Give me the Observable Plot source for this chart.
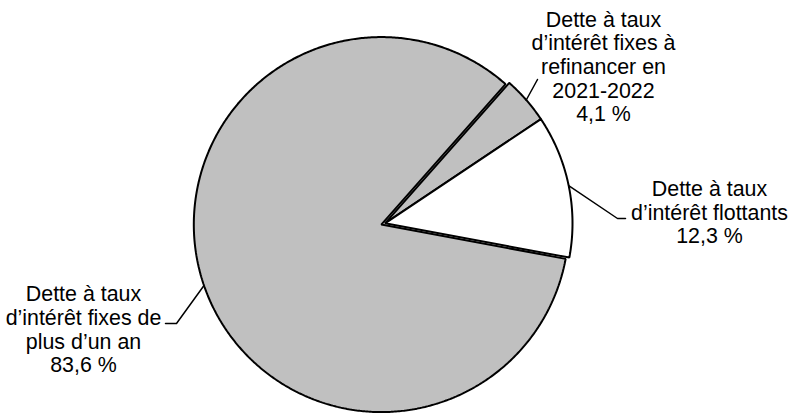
<!DOCTYPE html>
<html>
<head>
<meta charset="utf-8">
<script src="https://cdn.jsdelivr.net/npm/d3@7"></script>
<script src="https://cdn.jsdelivr.net/npm/@observablehq/plot@0.6"></script>
<style>
  html, body { margin: 0; padding: 0; background: #fff; }
  #chart svg { display: block; }
</style>
</head>
<body>
<div id="chart"></div>
<script>
// ---- data ----
const categories = [
  "Dette à taux d’intérêt fixes à refinancer en 2021-2022",
  "Dette à taux d’intérêt flottants",
  "Dette à taux d’intérêt fixes de plus d’un an"
];
const values = [4.1, 12.3, 83.6];
const valueLabels = ["4,1 %", "12,3 %", "83,6 %"];
const labelLines = [
  ["Dette à taux", "d’intérêt fixes à", "refinancer en", "2021-2022"],
  ["Dette à taux", "d’intérêt flottants"],
  ["Dette à taux", "d’intérêt fixes de", "plus d’un an"]
];

// ---- layout ----
const W = 791, H = 413;
const CX = 384.5, CY = 222.8, R = 187.5;       // pie centre and radius (px)
const startDeg = 41.5;                           // first slice start, clockwise from 12 o'clock
const explode = [0, 0, 3.9];                     // px offset of each slice along its mid-angle
const fills = ["#c0c0c0", "#ffffff", "#c0c0c0"];
const labelPos = [[603, 66], [709, 211.6], [83, 328.8]];       // px, middle of text block
const leaderPts = [
  [[537, 79]],
  [[617, 218], [625, 218]],
  [[176, 323], [165, 323]]
];
const ux = px => (px - CX) / R;
const uy = py => (CY - py) / R;

const rad = d => d * Math.PI / 180;
const arcs = d3.pie().sort(null).value(d => d)
  .startAngle(rad(startDeg)).endAngle(rad(startDeg) + 2 * Math.PI)(values);

const marks = [];
arcs.forEach((a, i) => {
  const mid = (a.startAngle + a.endAngle) / 2;
  const ox = Math.sin(mid) * explode[i] / R, oy = Math.cos(mid) * explode[i] / R;
  const pts = [{x: ox, y: oy}];
  const n = Math.max(8, Math.ceil((a.endAngle - a.startAngle) / rad(0.5)));
  for (let k = 0; k <= n; k++) {
    const t = a.startAngle + (a.endAngle - a.startAngle) * k / n;
    pts.push({x: ox + Math.sin(t), y: oy + Math.cos(t)});
  }
  marks.push(Plot.line(pts, {x: "x", y: "y", curve: "linear-closed", fill: fills[i],
    stroke: "black", strokeWidth: 2, strokeLinejoin: "miter"}));

  // leader line
  const lead = [{x: ox + Math.sin(mid), y: oy + Math.cos(mid)}]
    .concat(leaderPts[i].map(([px, py]) => ({x: ux(px), y: uy(py)})));
  marks.push(Plot.line(lead, {x: "x", y: "y", stroke: "black", strokeWidth: 1.5}));
});

const labelData = categories.map((c, i) => ({
  x: ux(labelPos[i][0]), y: uy(labelPos[i][1]),
  text: labelLines[i].concat(valueLabels[i]).join("\n")
}));
marks.push(Plot.text(labelData, {x: "x", y: "y", text: "text", fill: "black",
  fontSize: 21.4, fontFamily: "'Liberation Sans', Arial, sans-serif",
  lineHeight: 1.107, textAnchor: "middle", lineAnchor: "middle"}));

const chart = Plot.plot({
  width: W, height: H,
  margin: 0,
  x: {domain: [-1, 1], range: [CX - R, CX + R], axis: null},
  y: {domain: [-1, 1], range: [CY + R, CY - R], axis: null},
  style: {background: "white"},
  marks
});
document.getElementById("chart").appendChild(chart);
</script>
</body>
</html>
